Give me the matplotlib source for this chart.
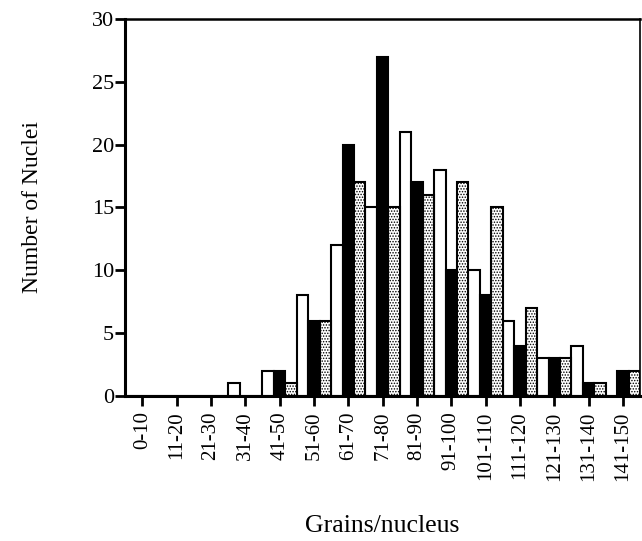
import numpy as np
import matplotlib.pyplot as plt

plt.rcParams['font.family'] = ['Liberation Serif', 'DejaVu Serif']
plt.rcParams['hatch.linewidth'] = 0.7

# Grain counts per nucleus, three samples
bins = ['0-10', '11-20', '21-30', '31-40', '41-50', '51-60', '61-70', '71-80',
        '81-90', '91-100', '101-110', '111-120', '121-130', '131-140', '141-150']
open_bars = [0, 0, 0, 1, 2, 8, 12, 15, 21, 18, 10, 6, 3, 4, 0]
solid_bars = [0, 0, 0, 0, 2, 6, 20, 27, 17, 10, 8, 4, 3, 1, 2]
dotted_bars = [0, 0, 0, 0, 1, 6, 17, 15, 16, 17, 15, 7, 3, 1, 2]

x = np.arange(len(bins))
w = 1 / 3

fig = plt.figure(figsize=(6.42, 5.41), dpi=100)
ax = fig.add_axes([0.195, 0.268, 0.802, 0.697])

ax.bar(x - w, open_bars, w, color='white', edgecolor='black', linewidth=1.5)
ax.bar(x, solid_bars, w, color='black', edgecolor='black', linewidth=1.5)
ax.bar(x + w, dotted_bars, w, color='white', edgecolor='black', linewidth=1.5,
       hatch='......')

ax.set_xlim(-0.5, 14.5)
ax.set_ylim(0, 30)
ax.set_yticks(range(0, 31, 5))
ax.set_xticks(x)
ax.set_xticklabels(bins, rotation=90, fontsize=15)
ax.tick_params(axis='y', labelsize=16, width=2, length=7, pad=1)
ax.tick_params(axis='x', width=2, length=7, pad=4)

ax.spines['left'].set_linewidth(2.2)
ax.spines['bottom'].set_linewidth(2.2)
ax.spines['top'].set_linewidth(1.8)
ax.spines['right'].set_linewidth(1.2)

ax.set_ylabel('Number of Nuclei', fontsize=17, labelpad=35)
ax.set_xlabel('Grains/nucleus', fontsize=18.5, labelpad=25)

plt.savefig('out.png', dpi=100)
